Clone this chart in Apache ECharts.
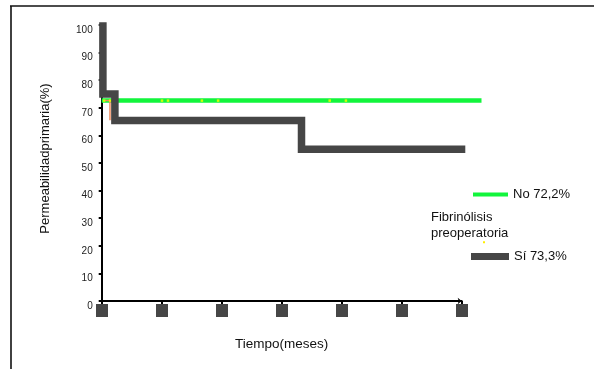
<!DOCTYPE html>
<html>
<head>
<meta charset="utf-8">
<script src="https://cdn.jsdelivr.net/npm/echarts@6/dist/echarts.min.js"></script>
<style>html,body{margin:0;padding:0;background:#fff}#c{width:594px;height:369px}</style>
</head>
<body>
<div id="c"></div>
<script>
// Time (months) / primary patency (%)
const yTicks = [0,10,20,30,40,50,60,70,80,90,100];
const siName = 'Sí 73,3%';
const noName = 'No 72,2%';
const siX = [0.2, 0.2, 2.2, 2.2, 33.3, 33.3, 60.6];
const siY = [101, 75, 75, 65.4, 65.4, 55, 55];
const noX = [0, 63.3];
const noY = [72.6, 72.6];
const orangeX = [0.5, 1.38, 1.38];
const orangeY = [72.6, 72.6, 65.5];
const censX = [0.4, 1.4, 10.05, 11.05, 16.7, 19.4, 38, 40.7];
const censY = [72.6, 72.6, 72.6, 72.6, 72.6, 72.6, 72.6, 72.6];

const zip = (xs, ys) => xs.map((x, i) => [x, ys[i]]);

const chart = echarts.init(document.getElementById('c'), null, {renderer: 'canvas'});
const FONT = 'Liberation Sans, Arial, sans-serif';
chart.setOption({
  animation: false,
  backgroundColor: '#fff',
  textStyle: {fontFamily: FONT},
  grid: [
    {left: 101.7, right: 132.3, top: 25, bottom: 68},
    // same scale (6 px per month), wider box so the curves can run past the axis end
    {left: 101.7, right: 92.3, top: 25, bottom: 68}
  ],
  title: {
    text: 'Fibrinólisis\npreoperatoria',
    left: 431, top: 209, padding: 0,
    textStyle: {fontSize: 13, fontWeight: 'normal', color: '#111', lineHeight: 16, fontFamily: FONT}
  },
  legend: [
    {data: [noName], left: 473, top: 188, padding: 0, itemWidth: 35, itemHeight: 4, itemGap: 5, icon: 'rect',
     textStyle: {fontSize: 13, color: '#111'}},
    {data: [siName], left: 471, top: 250, padding: 0, itemWidth: 38, itemHeight: 7, itemGap: 4, icon: 'rect',
     textStyle: {fontSize: 13, color: '#111'}}
  ],
  xAxis: [
    {gridIndex: 0, type: 'value', min: 0, max: 60, interval: 10,
     name: 'Tiempo(meses)', nameLocation: 'middle', nameGap: 36,
     nameTextStyle: {fontSize: 13.5, color: '#111'},
     axisLine: {show: true, lineStyle: {color: '#000', width: 2}, symbol: ['none', 'arrow'], symbolSize: [5, 4]},
     axisTick: {show: true, length: 3, lineStyle: {color: '#000', width: 2}},
     axisLabel: {show: false}, splitLine: {show: false}},
    {gridIndex: 0, type: 'value', min: 0, max: 60, interval: 10, position: 'bottom', offset: 3,
     axisLine: {show: false},
     axisTick: {show: true, length: 13, lineStyle: {color: '#464646', width: 12}},
     axisLabel: {show: false}, splitLine: {show: false}},
    {gridIndex: 1, type: 'value', min: 0, max: 400 / 6, show: false}
  ],
  yAxis: [
    {gridIndex: 0, type: 'value', min: 0, max: 100, interval: 10,
     axisLine: {show: true, lineStyle: {color: '#000', width: 2}},
     axisTick: {show: true, length: 3, lineStyle: {color: '#000', width: 2}},
     axisLabel: {fontSize: 10, color: '#222', margin: 9, verticalAlign: 'top'},
     splitLine: {show: false}},
    {gridIndex: 1, type: 'value', min: 0, max: 100, show: false}
  ],
  graphic: [
    {type: 'line', shape: {x1: 10, y1: 6, x2: 594, y2: 6}, style: {stroke: '#111', lineWidth: 1.6}},
    {type: 'line', shape: {x1: 11, y1: 6, x2: 11, y2: 369}, style: {stroke: '#111', lineWidth: 1.6}},
    {type: 'text', x: 45, y: 158.5, rotation: Math.PI / 2,
     style: {text: 'Permeabilidadprimaria(%)', fontSize: 13, fill: '#111', align: 'center', verticalAlign: 'middle',
             fontFamily: FONT}},
    {type: 'rect', shape: {x: 483, y: 241.3, width: 2, height: 2}, style: {fill: '#ffee00'}}
  ],
  series: [
    {name: noName, type: 'line', xAxisIndex: 2, yAxisIndex: 1, data: zip(noX, noY), showSymbol: false, clip: false,
     lineStyle: {color: '#12f53c', width: 4.5}, itemStyle: {color: '#12f53c'}, z: 2},
    {name: 'orange', type: 'line', xAxisIndex: 2, yAxisIndex: 1, data: zip(orangeX, orangeY), showSymbol: false, clip: false,
     lineStyle: {color: '#f08a5d', width: 1.5}, z: 3},
    {name: 'cens', type: 'scatter', xAxisIndex: 2, yAxisIndex: 1, data: zip(censX, censY), symbol: 'rect', symbolSize: 2.5, clip: false,
     itemStyle: {color: '#ffff00'}, z: 4},
    {name: siName, type: 'line', xAxisIndex: 2, yAxisIndex: 1, data: zip(siX, siY), showSymbol: false, clip: false,
     lineStyle: {color: '#464646', width: 7.5, join: 'miter', cap: 'butt'}, itemStyle: {color: '#464646'}, z: 5}
  ]
});
</script>
</body>
</html>
